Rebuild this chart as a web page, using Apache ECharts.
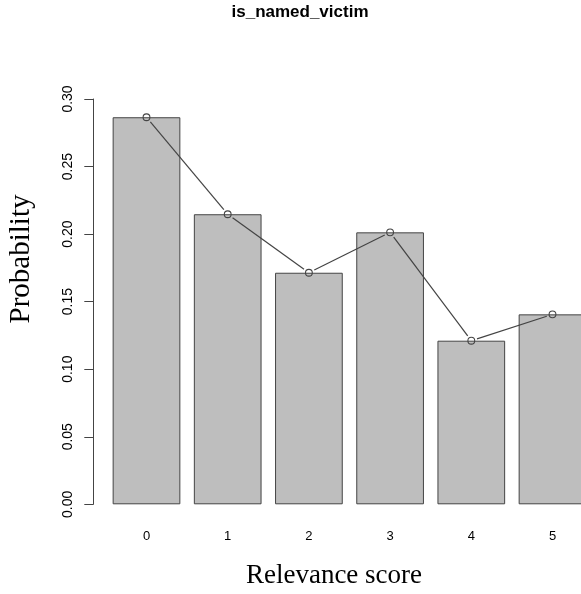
<!DOCTYPE html>
<html>
<head>
<meta charset="utf-8">
<script src="https://cdn.jsdelivr.net/npm/echarts@6/dist/echarts.min.js"></script>
<style>html,body{margin:0;padding:0;background:#fff}#c{width:581px;height:594px}</style>
</head>
<body>
<div id="c"></div>
<script>
const categories = ['0', '1', '2', '3', '4', '5'];
const probValues = [0.2865, 0.2147, 0.1714, 0.2013, 0.1211, 0.1406];
const yTicks = [0, 0.05, 0.10, 0.15, 0.20, 0.25, 0.30];
const chartTitle = 'is_named_victim';
const xTitle = 'Relevance score';
const yTitle = 'Probability';

const chart = echarts.init(document.getElementById('c'), null, {renderer: 'canvas'});
const lineColor = '#444';
const gap = 6;
const option = {
  animation: false,
  backgroundColor: '#fff',
  grid: {left: 105.9, top: 99, width: 487.2, height: 405.3, containLabel: false, outerBoundsMode: 'none'},
  xAxis: {
    type: 'category',
    data: categories,
    axisLine: {show: false},
    axisTick: {show: false},
    axisLabel: {color: '#000', fontFamily: 'Liberation Sans', fontSize: 13, margin: 26}
  },
  yAxis: {
    type: 'value',
    min: yTicks[0], max: yTicks[yTicks.length - 1], interval: 0.05,
    offset: 12.6,
    splitLine: {show: false},
    axisLine: {show: true, lineStyle: {color: lineColor, width: 1}},
    axisTick: {show: true, length: 9, lineStyle: {color: lineColor}},
    axisLabel: {rotate: 90, color: '#000', fontFamily: 'Liberation Sans', fontSize: 14, margin: 18,
      formatter: v => v.toFixed(2)}
  },
  series: [
    {
      type: 'bar',
      data: probValues,
      barWidth: 67.7,
      itemStyle: {color: '#bebebe', borderColor: '#444', borderWidth: 1}
    },
    {
      type: 'custom',
      data: probValues.map((v, i) => [i, v]),
      encode: {x: 0, y: 1},
      z: 5,
      clip: false,
      renderItem: function (params, api) {
        const i = api.value(0);
        const p = api.coord([i, api.value(1)]);
        const children = [{
          type: 'circle',
          shape: {cx: p[0], cy: p[1], r: 3.4},
          style: {fill: 'none', stroke: lineColor, lineWidth: 1.1}
        }];
        if (i < probValues.length - 1) {
          const q = api.coord([i + 1, probValues[i + 1]]);
          const dx = q[0] - p[0], dy = q[1] - p[1];
          const len = Math.sqrt(dx * dx + dy * dy);
          const ux = dx / len, uy = dy / len;
          children.push({
            type: 'line',
            shape: {x1: p[0] + ux * gap, y1: p[1] + uy * gap, x2: q[0] - ux * gap, y2: q[1] - uy * gap},
            style: {stroke: lineColor, lineWidth: 1.2}
          });
        }
        return {type: 'group', children: children};
      }
    }
  ],
  graphic: [
    {type: 'text', x: 300, y: 12, style: {text: chartTitle, font: 'bold 17px "Liberation Sans"', fill: '#000', align: 'center', verticalAlign: 'middle'}},
    {type: 'text', x: 334, y: 576, style: {text: xTitle, font: '27px "Liberation Serif"', fill: '#000', align: 'center', verticalAlign: 'middle'}},
    {type: 'text', x: 21, y: 259, rotation: Math.PI / 2, style: {text: yTitle, font: '29px "Liberation Serif"', fill: '#000', align: 'center', verticalAlign: 'middle'}}
  ]
};
chart.setOption(option);
</script>
</body>
</html>
